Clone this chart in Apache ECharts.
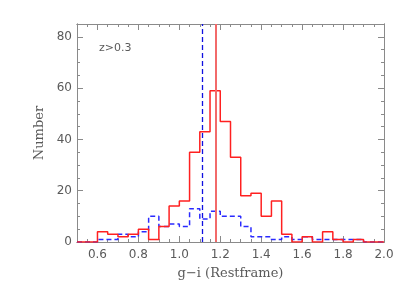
<!DOCTYPE html>
<html>
<head>
<meta charset="utf-8">
<script src="https://cdn.jsdelivr.net/npm/echarts@6/dist/echarts.min.js"></script>
<style>
html,body{margin:0;padding:0;background:#fff;}
#chart{width:407px;height:291px;}
</style>
</head>
<body>
<div id="chart"></div>
<script>
// Bin left edges (g-i), last edge closes the final bin
const binStart = [0.50,0.55,0.60,0.65,0.70,0.75,0.80,0.85,0.90,0.95,
                  1.00,1.05,1.10,1.15,1.20,1.25,1.30,1.35,1.40,1.45,
                  1.50,1.55,1.60,1.65,1.70,1.75,1.80,1.85,1.90,1.95];
const binEnd = 2.00;
const redCounts  = [0,0,4,3,2,3,5,1,6,14,16,35,43,59,47,33,18,19,10,16,3,0,2,0,4,1,0,1,0,0];
const blueCounts = [0,0,1,1,3,2,4,10,6,7,6,13,9,12,10,10,6,2,2,1,2,1,2,1,1,1,1,1,0,0];
const redMedian = 1.18;
const blueMedian = 1.11;
const xMajorTicks = [0.6,0.8,1.0,1.2,1.4,1.6,1.8,2.0];
const xMinorTicks = [0.55,0.60,0.65,0.70,0.75,0.80,0.85,0.90,0.95,1.00,1.05,1.10,1.15,1.20,
                     1.25,1.30,1.35,1.40,1.45,1.50,1.55,1.60,1.65,1.70,1.75,1.80,1.85,1.90,1.95];
const yMajorTicks = [0,20,40,60,80];
const yMinorTicks = [5,10,15,20,25,30,35,40,45,50,55,60,65,70,75,80];
const xTitle = 'g\u2212i (Restframe)';
const yTitle = 'Number';
const sampleLabel = 'z>0.3';

function stepData(counts){
  const d = binStart.map((x,i)=>[x, counts[i]]);
  d.push([binEnd, counts[counts.length-1]]);
  return d;
}

const axisColor = '#8a8a8a';
const textColor = '#5a5a5a';
const XMIN = 0.5, XMAX = 2.0, YMIN = 0, YMAX = 85;

function xAx(pos, ticks, len, showLabel, extra){
  return Object.assign({
    type:'value', min:XMIN, max:XMAX, position:pos,
    axisLine:{show:true, onZero:false, lineStyle:{color:axisColor, width:1}},
    axisTick:{show:true, inside:true, length:len, customValues:ticks, lineStyle:{color:axisColor}},
    axisLabel:{show:showLabel, customValues:ticks, formatter:v=>v.toFixed(1),
               color:textColor, fontFamily:'DejaVu Sans', fontSize:12, margin:7},
    splitLine:{show:false}
  }, extra||{});
}
function yAx(pos, ticks, len, showLabel, extra){
  return Object.assign({
    type:'value', min:YMIN, max:YMAX, position:pos,
    axisLine:{show:true, onZero:false, lineStyle:{color:axisColor, width:1}},
    axisTick:{show:true, inside:true, length:len, customValues:ticks, lineStyle:{color:axisColor}},
    axisLabel:{show:showLabel, customValues:ticks, formatter:v=>String(v),
               color:textColor, fontFamily:'DejaVu Sans', fontSize:12, margin:5},
    splitLine:{show:false}
  }, extra||{});
}

const chart = echarts.init(document.getElementById('chart'), null, {renderer:'canvas'});
chart.setOption({
  animation:false,
  backgroundColor:'#fff',
  grid:{left:77, right:23, top:24, bottom:49, containLabel:false},
  xAxis:[
    xAx('bottom', xMajorTicks, 6, true, {name:xTitle, nameLocation:'middle', nameGap:25,
        nameTextStyle:{color:textColor, fontFamily:'DejaVu Serif', fontSize:13}}),
    xAx('bottom', xMinorTicks, 3, false),
    xAx('top', xMajorTicks, 6, false),
    xAx('top', xMinorTicks, 3, false)
  ],
  yAxis:[
    yAx('left', yMajorTicks, 6, true, {name:yTitle, nameLocation:'middle', nameGap:31,
        nameTextStyle:{color:textColor, fontFamily:'DejaVu Serif', fontSize:13}}),
    yAx('left', yMinorTicks, 3, false),
    yAx('right', yMajorTicks, 6, false),
    yAx('right', yMinorTicks, 3, false)
  ],
  graphic:[{type:'text', left:99, top:43,
    style:{text:sampleLabel, fill:textColor, font:'11px "DejaVu Sans"'}}],
  series:[
    {type:'line', step:'end', data:stepData(blueCounts), symbol:'none',
     lineStyle:{color:'#2a2aff', width:1.5, type:[5,3]}, z:3,
     markLine:{silent:true, symbol:'none', label:{show:false},
       lineStyle:{color:'#1010e0', width:1.3, type:[5,3]},
       data:[{xAxis:blueMedian}]}},
    {type:'line', step:'end', data:stepData(redCounts), symbol:'none',
     lineStyle:{color:'#ff2020', width:1.5}, z:4,
     markLine:{silent:true, symbol:'none', label:{show:false},
       lineStyle:{color:'#f26a6a', width:2, type:'solid'},
       data:[{xAxis:redMedian}]}}
  ]
});
</script>
</body>
</html>
